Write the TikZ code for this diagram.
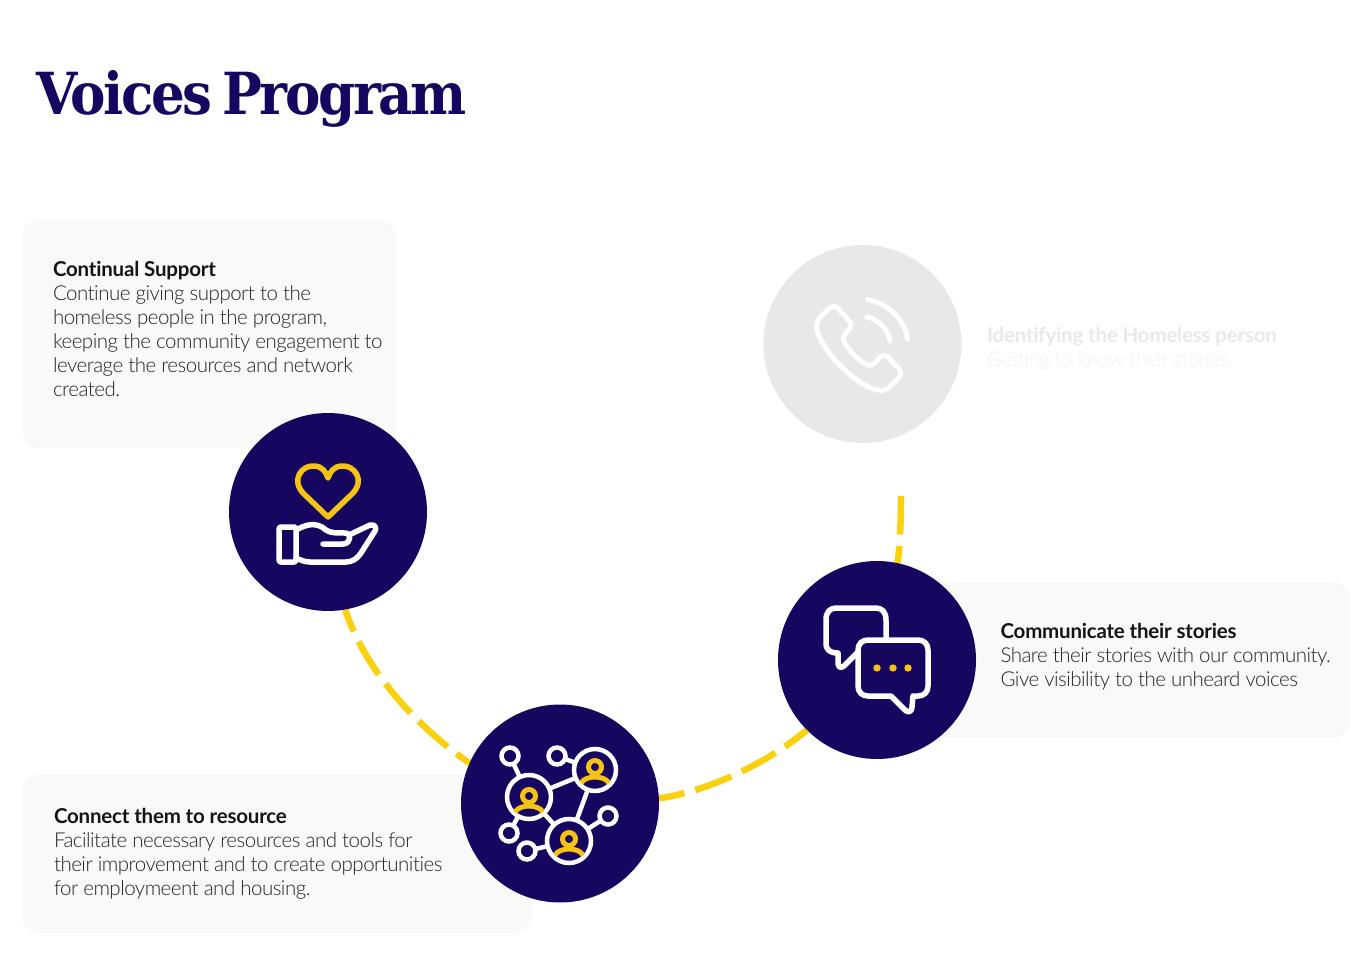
\documentclass[tikz,border=0pt]{standalone}
\usepackage{fontspec}
\setmainfont[Ligatures=NoCommon]{Lato}
\newfontfamily\lightfont[Ligatures=NoCommon,LetterSpace=-2.5]{Lato Light}
\newfontfamily\headfont[Ligatures=NoCommon,LetterSpace=-1,BoldFont={Lato Bold}]{Lato}
\newfontfamily\titlefont[LetterSpace=-4,FakeStretch=0.915,WordSpace=0.6]{DejaVu Serif}
\pgfdeclarelayer{under}
\pgfsetlayers{under,main}
\definecolor{navy}{HTML}{17065F}
\definecolor{dashyellow}{HTML}{F9D10E}
\definecolor{iconyellow}{HTML}{F6C315}
\definecolor{cardgrey}{HTML}{F9F9F7}
\definecolor{faded}{HTML}{E8E8E8}
\definecolor{fadedhead}{HTML}{E9E9E9}
\definecolor{fadedbody}{HTML}{F2F2F0}
\definecolor{bodyink}{HTML}{222222}
\tikzset{
  x=1pt,y=-1pt,
  card/.style={fill=cardgrey,rounded corners=18pt},
  disc/.style={circle,fill=navy,minimum size=198pt,inner sep=0pt,outer sep=0pt},
  discfaded/.style={disc,fill=faded},
  txt/.style={anchor=north west,inner sep=0pt,outer sep=0pt,align=left,font=\fontsize{20.5}{24}\selectfont,text=bodyink},
  yellowdash/.style={draw=dashyellow,line width=6.5pt,dash pattern=on 38.5pt off 11.5pt},
  whiteline/.style={draw=white,line width=5.5pt,line join=round,line cap=round},
  yellowline/.style={draw=iconyellow,line width=5.5pt,line join=round,line cap=round},
  fadedline/.style={draw=white!97!faded,line width=5pt,line join=round,line cap=round},
}
\newcommand{\hd}[1]{{\headfont\bfseries\color{black!92} #1}}
\begin{document}
\begin{tikzpicture}
\useasboundingbox (0,0) rectangle (1350,968);

\node[anchor=base west,inner sep=0pt,text=navy,font=\titlefont\bfseries\fontsize{58}{60}\selectfont] (title) at (36,115) {Voices Program};

% circles
\node[discfaded] (phone) at (862.5,344) {};
\node[disc] (heart) at (328,512) {};
\node[disc] (net) at (560,803.5) {};
\node[disc] (chat) at (877,660) {};
\coordinate (free) at (901,496);

\begin{pgfonlayer}{under}
\fill[white] (0,0) rectangle (1350,968);
\fill[card] (22,220) rectangle (396,448);
\fill[card] (22,774) rectangle (532,933);
\fill[card] (930,582) rectangle (1350,738);
\draw[yellowdash,dash phase=15pt] (heart.-80) .. controls (365,670) and (415,725) .. (net.156);
\draw[yellowdash,dash phase=12.5pt] (net.3) .. controls (705,792) and (765,765) .. (chat.225);
\draw[yellowdash] (free) .. controls (901,520) and (900,545) .. (chat.78);
\end{pgfonlayer}

% texts
\node[txt] (t1) at (53,261.3) {\hd{Continual Support}\\{\lightfont Continue giving support to the}\\{\lightfont homeless people in the program,}\\{\lightfont keeping the community engagement to}\\{\lightfont leverage the resources and network}\\{\lightfont created.}};
\node[txt] (t2) at (54,808.3) {\hd{Connect them to resource}\\{\lightfont Facilitate necessary resources and tools for}\\{\lightfont their improvement and to create opportunities}\\{\lightfont for employmeent and housing.}};
\node[txt] (t3) at (1000.5,623.3) {\hd{Communicate their stories}\\{\lightfont Share their stories with our community.}\\{\lightfont Give visibility to the unheard voices}};
\node[txt,text=fadedbody] (t4) at (987,327.3) {{\headfont\bfseries\color{fadedhead} Identifying the Homeless person}\\{\lightfont Getting to know their stories.}};

% phone icon
\draw[fadedline,rounded corners=5pt] (834,304) -- (853,325) -- (842,337) .. controls (848,350) and (858,360) .. (871,367) -- (884,353) -- (903,373) -- (887,390) .. controls (860,392) and (815,345) .. (817,320) -- cycle;
\draw[fadedline] (867.5,299.5) .. controls (888,303) and (905,320) .. (907.5,339);
\draw[fadedline] (867,317) .. controls (878,319) and (888,329) .. (890,341);

% heart icon
\draw[yellowline] (328,517) -- (304,494) .. controls (290,480) and (302,465) .. (314,466) .. controls (322,466) and (326,472) .. (328,478) .. controls (330,472) and (334,466) .. (342,466) .. controls (354,465) and (366,480) .. (352,494) -- cycle;
\draw[whiteline,rounded corners=2pt] (279,527) rectangle (296,562);
\draw[whiteline] (296,530) .. controls (305,525) and (316,521) .. (326,530) .. controls (330,533) and (336,533) .. (345,533) .. controls (352,533) and (351,544) .. (343,544) -- (323,544);
\draw[whiteline] (349,535) -- (370,525) .. controls (375,524) and (377,528) .. (375,531) -- (361,553) .. controls (357,559) and (352,562) .. (346,562) -- (310,562) .. controls (305,562) and (300,560) .. (296,558);

% network icon
\foreach \n/\x/\y/\r in {a/529/797/22,b/595/770/21,c/569/841/22,s1/510/756/8.5,s2/557/756/8.5,s3/509/833/8.5,s4/527/851/8.5,s5/608/816/8.5}{
  \node[circle,draw=white,line width=4.5pt,minimum size=2*\r pt,inner sep=0pt,outer sep=1pt] (\n) at (\x,\y) {};
}
\foreach \p/\q in {a/s1,b/s2,a/b,b/c,a/c,a/s3,c/s4,c/s5}{
  \draw[draw=white,line width=4.5pt] (\p) -- (\q);
}
\foreach \n/\x/\y in {a/529/796,b/595/767,c/569/839}{
  \draw[yellowline,line cap=butt,line width=5pt] (\x,\y) circle (6.5);
  \draw[yellowline,line cap=butt,line width=5pt] (\x-14,\y+16) .. controls (\x-9,\y+8) and (\x+9,\y+8) .. (\x+14,\y+16);
}

% chat icon
\draw[whiteline] (886,640) -- (886,620) .. controls (886,612) and (882,608) .. (876,608) -- (836,608) .. controls (830,608) and (826,612) .. (826,620) -- (826,643) .. controls (826,650) and (830,653) .. (838,653) -- (838,664) .. controls (839,668) and (841,668) .. (844,666) -- (858,652);
\draw[whiteline] (868,640) -- (918,640) .. controls (924,640) and (928,644) .. (928,650) -- (928,686) .. controls (928,692) and (924,696) .. (918,696) -- (913,696) -- (912,707) .. controls (912,712) and (908,713) .. (905,710) -- (891,696) -- (868,696) .. controls (862,696) and (858,692) .. (858,686) -- (858,650) .. controls (858,644) and (862,640) .. (868,640) -- cycle;
\fill[iconyellow] (877,668) circle (3.7) (893,668) circle (3.7) (908,668) circle (3.7);
\end{tikzpicture}
\end{document}
